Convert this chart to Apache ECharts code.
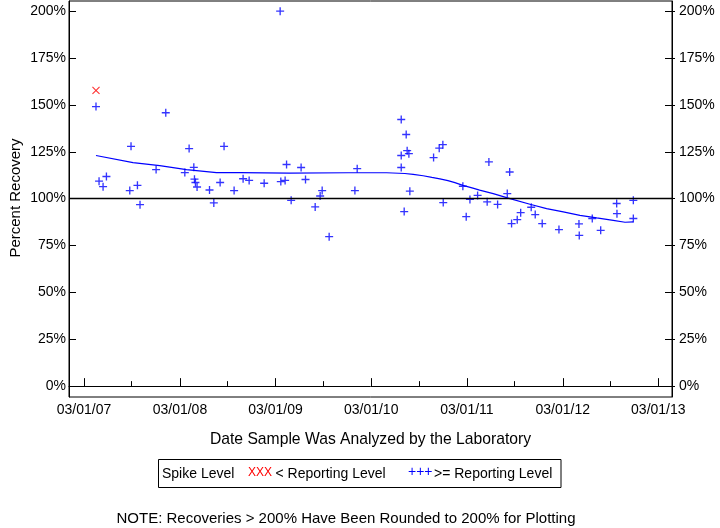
<!DOCTYPE html>
<html>
<head>
<meta charset="utf-8">
<script src="https://cdn.jsdelivr.net/npm/echarts@6/dist/echarts.min.js"></script>
<style>
html,body{margin:0;padding:0;background:#fff;}
#chart{width:720px;height:528px;}
</style>
</head>
<body>
<div id="chart"></div>
<script>
// X values are decimal years
var xMin = 2007.005, xMax = 2013.305;
var yMin = -5.8, yMax = 205.4;
var xTickPositions = [2007.162, 2008.164, 2009.162, 2010.162, 2011.162, 2012.164, 2013.162];
var xTickLabels = ['03/01/07', '03/01/08', '03/01/09', '03/01/10', '03/01/11', '03/01/12', '03/01/13'];
var xMinorTicks = [2007.66, 2008.66, 2009.66, 2010.66, 2011.66, 2012.66];
var yTicks = [0, 25, 50, 75, 100, 125, 150, 175, 200];

var aboveYears = [2007.287, 2007.319, 2007.361, 2007.396, 2007.640, 2007.653, 2007.720, 2007.747, 2007.915, 2008.016,
  2008.215, 2008.260, 2008.309, 2008.316, 2008.326, 2008.343, 2008.473, 2008.518, 2008.584, 2008.625,
  2008.730, 2008.824, 2008.887, 2009.044, 2009.211, 2009.218, 2009.263, 2009.278, 2009.326, 2009.430,
  2009.476, 2009.577, 2009.629, 2009.650, 2009.723, 2009.992, 2010.016, 2010.476, 2010.476, 2010.476,
  2010.507, 2010.528, 2010.538, 2010.556, 2010.566, 2010.814, 2010.873, 2010.911, 2010.915, 2011.120,
  2011.155, 2011.194, 2011.274, 2011.374, 2011.392, 2011.483, 2011.584, 2011.609, 2011.629, 2011.688,
  2011.724, 2011.834, 2011.876, 2011.949, 2012.124, 2012.333, 2012.336, 2012.472, 2012.560, 2012.727,
  2012.730, 2012.901, 2012.901];
var abovePct = [149.1, 109.3, 106.4, 111.8, 104.3, 127.9, 107.1, 96.8, 115.5, 145.8,
  113.9, 126.7, 116.7, 110.4, 108.6, 106.2, 104.6, 97.7, 108.6, 127.9,
  104.3, 110.6, 109.7, 108.2, 200.0, 109.1, 109.7, 118.2, 99.1, 116.6,
  110.2, 95.6, 101.4, 104.3, 79.7, 104.3, 116.0, 142.2, 123.0, 116.6,
  93.1, 134.2, 125.6, 124.0, 104.0, 121.9, 126.9, 128.8, 97.9, 106.6,
  90.4, 99.6, 101.7, 98.3, 119.6, 96.9, 102.7, 114.2, 86.7, 88.8,
  92.5, 95.4, 91.5, 86.7, 83.5, 86.5, 80.4, 89.4, 83.1, 97.4,
  92.0, 99.1, 89.4];

var belowYears = [2007.287];
var belowPct = [157.7];

var trendYears = [2007.287, 2007.674, 2007.953, 2008.232, 2008.546, 2008.790, 2009.305, 2009.922, 2010.323, 2010.514,
  2010.601, 2010.705, 2010.796, 2010.880, 2010.964, 2011.037, 2011.120, 2011.225, 2011.295, 2011.437,
  2011.612, 2011.821, 2011.995, 2012.169, 2012.343, 2012.518, 2012.691, 2012.814, 2012.901];
var trendPct = [123.0, 119.2, 117.6, 115.5, 113.9, 113.9, 113.6, 113.8, 113.8, 113.4,
  112.9, 112.2, 111.3, 110.5, 109.6, 108.5, 107.1, 105.6, 104.5, 102.7,
  100.0, 97.0, 94.7, 92.9, 91.1, 89.7, 88.4, 87.4, 87.6];

function zip(a, b) { return a.map(function (v, i) { return [v, b[i]]; }); }

var FONT = 'Liberation Sans, Arial, sans-serif';
var plusPath = 'path://M3,0h1.2v3h3v1.2h-3v3h-1.2v-3h-3v-1.2h3z';
var xPath = 'path://M3,0h0.8v3.2h3.2v0.8h-3.2v3.2h-0.8v-3.2h-3.2v-0.8h3.2z';

var chart = echarts.init(document.getElementById('chart'), null, {renderer: 'canvas'});
var xLabelMap = {};
xTickPositions.forEach(function (p, i) { xLabelMap[p] = xTickLabels[i]; });

var option = {
  animation: false,
  backgroundColor: '#fff',
  grid: {left: 69, right: 48, top: 1, bottom: 131, show: true, borderColor: '#000', borderWidth: 1, backgroundColor: 'transparent'},
  xAxis: [
    {
      type: 'value', min: xMin, max: xMax, position: 'bottom',
      axisLine: {show: true, lineStyle: {color: '#000', width: 1}},
      axisTick: {show: true, inside: true, length: 8, customValues: xTickPositions, lineStyle: {color: '#000'}},
      axisLabel: {show: true, customValues: xTickPositions, margin: 6, fontSize: 14, color: '#000', fontFamily: FONT,
        formatter: function (v) { return xLabelMap[v] || ''; }},
      splitLine: {show: false}
    },
    {
      type: 'value', min: xMin, max: xMax, position: 'bottom',
      axisLine: {show: false},
      axisTick: {show: true, inside: true, length: 5, customValues: xMinorTicks, lineStyle: {color: '#000'}},
      axisLabel: {show: false},
      splitLine: {show: false}
    }
  ],
  yAxis: [
    {
      type: 'value', min: yMin, max: yMax, position: 'left',
      axisLine: {show: true, lineStyle: {color: '#000'}},
      axisTick: {show: true, inside: true, length: 7, customValues: yTicks, lineStyle: {color: '#000'}},
      axisLabel: {show: true, customValues: yTicks, margin: 3, fontSize: 14, color: '#000', fontFamily: FONT,
        formatter: function (v) { return v + '%'; }},
      splitLine: {show: false}
    },
    {
      type: 'value', min: yMin, max: yMax, position: 'right',
      axisLine: {show: true, lineStyle: {color: '#000'}},
      axisTick: {show: true, inside: true, length: 7, customValues: yTicks, lineStyle: {color: '#000'}},
      axisLabel: {show: true, customValues: yTicks, margin: 7, fontSize: 14, color: '#000', fontFamily: FONT,
        formatter: function (v) { return v + '%'; }},
      splitLine: {show: false}
    },
    {
      type: 'value', min: yMin, max: yMax, position: 'right',
      axisLine: {show: false},
      axisTick: {show: true, inside: false, length: 3, customValues: yTicks, lineStyle: {color: '#000'}},
      axisLabel: {show: false},
      splitLine: {show: false}
    }
  ],
  series: [
    {
      type: 'line', name: 'trend', data: zip(trendYears, trendPct), xAxisIndex: 0, yAxisIndex: 0,
      showSymbol: false, symbol: 'none', smooth: false,
      lineStyle: {color: '#0000ff', width: 1.2}, silent: true, z: 3,
      markLine: {
        silent: true, symbol: 'none', label: {show: false},
        lineStyle: {color: '#000', width: 1.3, type: 'solid'},
        data: [{yAxis: 100}]
      }
    },
    {
      type: 'scatter', name: '>= Reporting Level', data: zip(aboveYears, abovePct), xAxisIndex: 0, yAxisIndex: 0,
      symbol: plusPath, symbolSize: 8, itemStyle: {color: '#0000ff'}, silent: true, z: 4
    },
    {
      type: 'scatter', name: '< Reporting Level', data: zip(belowYears, belowPct), xAxisIndex: 0, yAxisIndex: 0,
      symbol: xPath, symbolSize: 10, symbolRotate: 45, itemStyle: {color: '#ff0000'}, silent: true, z: 4
    }
  ],
  graphic: [
    {type: 'text', x: 370.5, y: 440, style: {text: 'Date Sample Was Analyzed by the Laboratory', font: '15.7px ' + FONT, fill: '#000', textAlign: 'center', textVerticalAlign: 'middle'}},
    {type: 'text', x: 16, y: 198, rotation: Math.PI / 2, style: {text: 'Percent Recovery', font: '15px ' + FONT, fill: '#000', textAlign: 'center', textVerticalAlign: 'middle'}},
    {type: 'rect', shape: {x: 158.5, y: 459.5, width: 402.5, height: 28}, style: {fill: 'none', stroke: '#000', lineWidth: 1}},
    {type: 'text', x: 162, y: 474, style: {text: 'Spike Level', font: '14px ' + FONT, fill: '#000', textVerticalAlign: 'middle'}},
    {type: 'text', x: 248, y: 473, style: {text: 'XXX', font: '12px ' + FONT, fill: '#ff0000', textVerticalAlign: 'middle'}},
    {type: 'text', x: 275.5, y: 474, style: {text: '< Reporting Level', font: '14px ' + FONT, fill: '#000', textVerticalAlign: 'middle'}},
    {type: 'text', x: 408, y: 472, style: {text: '+++', font: '14px ' + FONT, fill: '#0000ff', textVerticalAlign: 'middle'}},
    {type: 'text', x: 434, y: 474, style: {text: '>= Reporting Level', font: '14px ' + FONT, fill: '#000', textVerticalAlign: 'middle'}},
    {type: 'text', x: 346, y: 519, style: {text: 'NOTE: Recoveries > 200% Have Been Rounded to 200% for Plotting', font: '15px ' + FONT, fill: '#000', textAlign: 'center', textVerticalAlign: 'middle'}}
  ]
};
chart.setOption(option);
</script>
</body>
</html>
